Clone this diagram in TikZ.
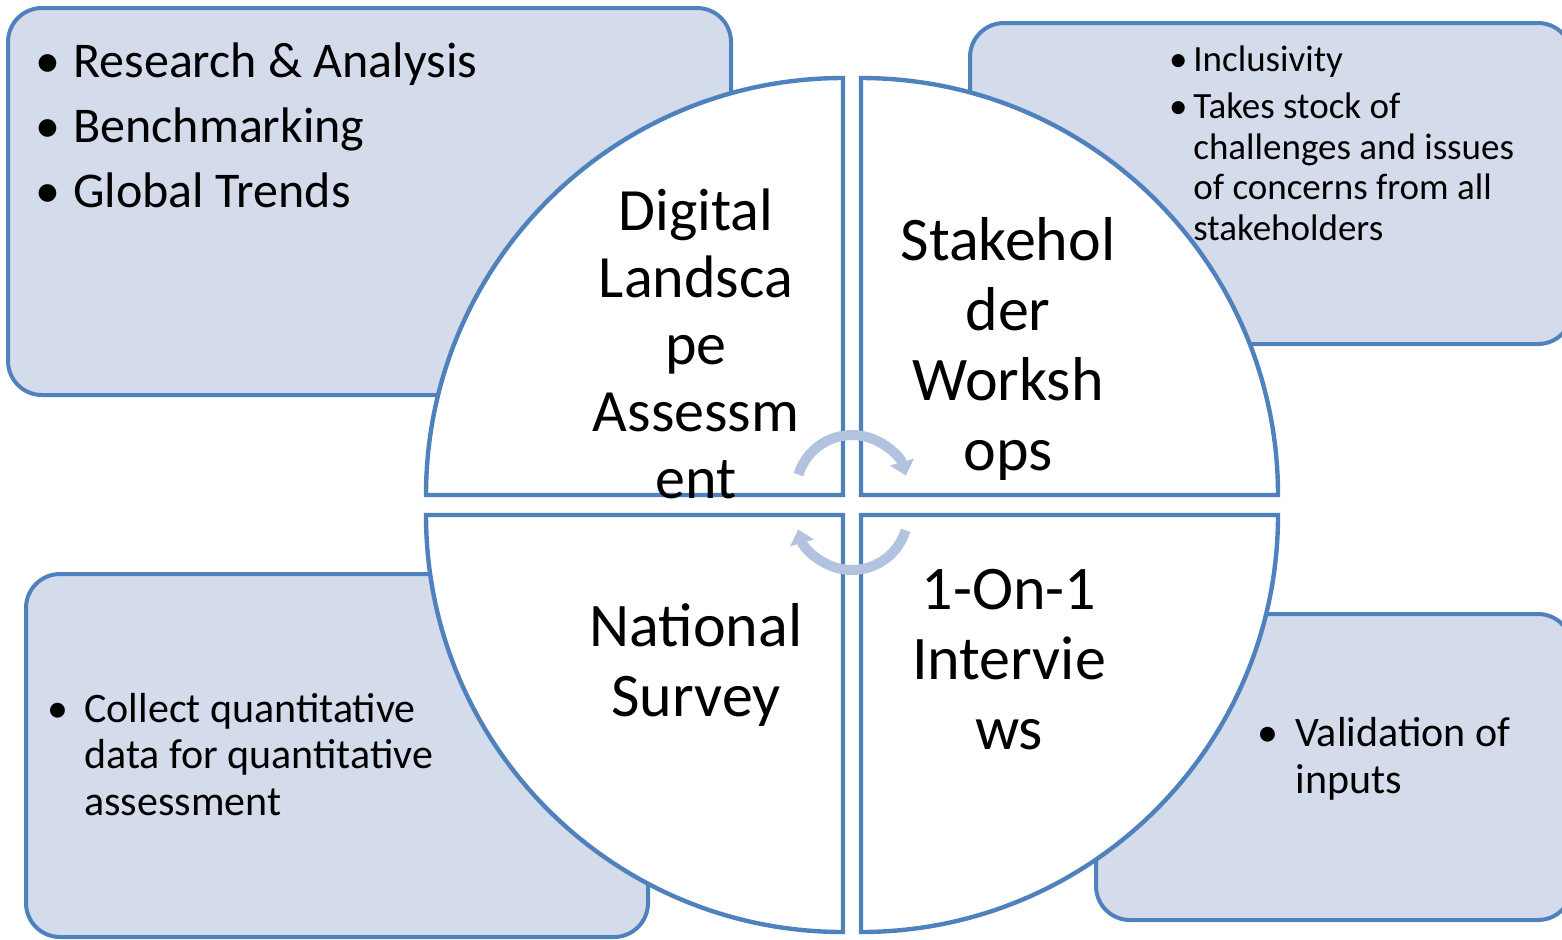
\documentclass[tikz,border=0pt]{standalone}
\usepackage{fontspec}
\setmainfont{Carlito}
\usetikzlibrary{arrows.meta}
\definecolor{edgeblue}{HTML}{4F81BD}
\definecolor{boxfill}{HTML}{D4DBEA}
\definecolor{cyclearrow}{HTML}{B2C3DF}
\tikzstyle{side} = [draw=edgeblue, line width=2pt, fill=boxfill, rounded corners=17pt]
\tikzstyle{quad} = [draw=edgeblue, line width=2.2pt, fill=white]
\tikzstyle{cyc} = [cyclearrow, line width=5pt, -{Triangle[width=12pt,length=7pt]}]
\tikzstyle{list} = [inner sep=0pt, align=left, anchor=base west]
\tikzstyle{title} = [inner sep=0pt, align=center, anchor=base]
\newcommand{\bitem}[2]{\makebox[#1][c]{\textbullet}#2}

\begin{document}
\begin{tikzpicture}[x=0.5pt, y=-0.5pt]
	\useasboundingbox (0,0) rectangle (1562,939);
	\clip (0,0) rectangle (1562,939);
	% side boxes
	\draw [side] (8,8) rectangle (731,395);
	\draw [side] (970,23) rectangle (1572,344);
	\draw [side] (26,574) rectangle (648,937);
	\draw [side] (1096,614) rectangle (1572,920);
	% quarters of the circle
	\draw [quad] (843,495) -- (426,495) arc (180:90:208.5pt) -- cycle;
	\draw [quad] (861,495) -- (861,78) arc (90:0:208.5pt) -- cycle;
	\draw [quad] (843,515) -- (426,515) arc (180:270:208.5pt) -- cycle;
	\draw [quad] (861,515) -- (1278,515) arc (0:-90:208.5pt) -- cycle;
	% cycle arrows
	\draw [cyc] (852,491) ++(163:28pt) arc (163:16:28pt);
	\draw [cyc] (852,514) ++(-17:28pt) arc (-17:-164:28pt);
	% base = last line
	\node (digital) [title, font=\fontsize{30pt}{33.5pt}\selectfont] at (696,498) {Digital\\Landsca\\pe\\Assessm\\ent};
	\node (stakeholder) [title, font=\fontsize{31pt}{35pt}\selectfont] at (1008,470) {Stakehol\\der\\Worksh\\ops};
	\node (survey) [title, font=\fontsize{31pt}{35pt}\selectfont] at (696,716) {National\\Survey};
	\node (interviews) [title, font=\fontsize{31pt}{35pt}\selectfont] at (1009,749) {1-On-1\\Intervie\\ws};
	\node (research) [list, font=\fontsize{25pt}{27.5pt}\selectfont] at (23,207) {\bitem{25pt}{Research \& Analysis}\\[5pt]\bitem{25pt}{Benchmarking}\\[5pt]\bitem{25pt}{Global Trends}};
	\node (inclusivity) [list, font=\fontsize{18.5pt}{20.25pt}\selectfont] at (1163,240) {\bitem{15pt}{Inclusivity}\\[3.25pt]\bitem{15pt}{Takes stock of}\\\hspace*{15pt}challenges and issues\\\hspace*{15pt}of concerns from all\\\hspace*{15pt}stakeholders};
	\node (collect) [list, font=\fontsize{21pt}{23.25pt}\selectfont] at (32,815) {\bitem{26pt}{Collect quantitative}\\\hspace*{26pt}data for quantitative\\\hspace*{26pt}assessment};
	\node (validation) [list, font=\fontsize{21pt}{23.5pt}\selectfont] at (1241,793) {\bitem{27pt}{Validation of}\\\hspace*{27pt}inputs};
\end{tikzpicture}
\end{document}
